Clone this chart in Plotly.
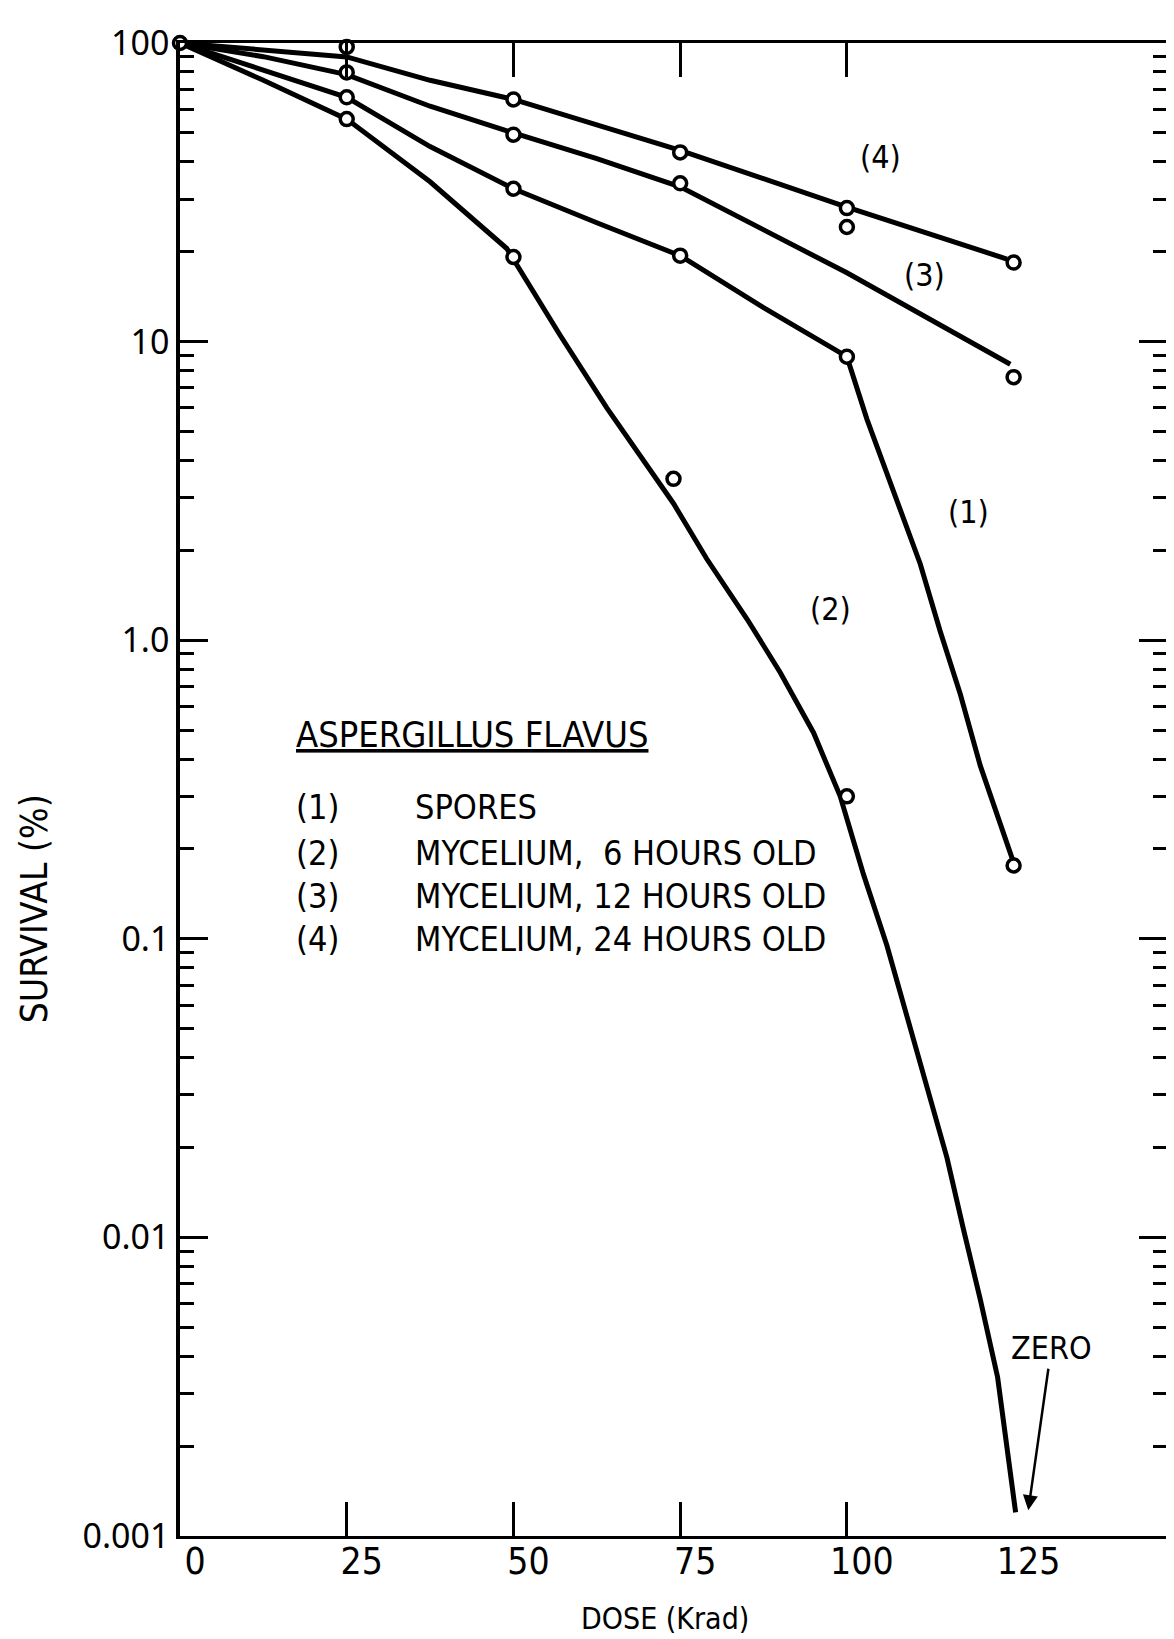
import math
import plotly.graph_objects as go

# ---------------- data ----------------
# measured points
dose_pts_1 = [0, 25, 50, 75, 100, 125]
surv_pts_1 = [100, 65.8, 32.5, 19.4, 8.9, 0.176]
dose_pts_2 = [25, 50, 74, 100]
surv_pts_2 = [55.6, 19.2, 3.47, 0.30]
dose_pts_3 = [25, 50, 75, 125]
surv_pts_3 = [79.7, 49.3, 33.9, 7.6]
dose_pts_4 = [25, 50, 75, 100, 100, 125]
surv_pts_4 = [97, 64.7, 43, 28, 24.2, 18.4]

# hand-drawn curves
dose_fit_1 = [0, 12.5, 25, 37.5, 50, 62.5, 75, 87.5, 100, 103, 107, 111, 114, 117, 120, 125]
surv_fit_1 = [100, 81, 65.8, 45, 32.5, 25, 19.4, 13, 8.9, 5.5, 3.15, 1.8, 1.07, 0.66, 0.38, 0.18]
dose_fit_2 = [0, 12.5, 25, 37.5, 49, 57, 64, 74, 79, 85, 90, 95, 99, 102.5, 106, 109, 112, 115, 117.5, 120, 122.6, 125.3]
surv_fit_2 = [100, 75, 55.6, 34.3, 20.5, 10.5, 6.0, 2.87, 1.87, 1.18, 0.78, 0.49, 0.30, 0.164, 0.095,
              0.055, 0.032, 0.0185, 0.0106, 0.0062, 0.0034, 0.0012]
dose_fit_3 = [0, 12.5, 25, 37.5, 50, 62.5, 75, 87.5, 100, 124.5]
surv_fit_3 = [100, 90, 78.4, 61.4, 50, 41, 33, 23.7, 17, 8.4]
dose_fit_4 = [0, 12.5, 25, 37.5, 50, 75, 100, 124]
surv_fit_4 = [100, 94.8, 89.8, 75, 64.7, 43.7, 28.2, 18.9]

curve_tags = ["(1)", "(2)", "(3)", "(4)"]
curve_tag_dose = [118.2, 97.6, 111.6, 105.1]
curve_tag_surv = [2.68, 1.27, 16.7, 41.5]

legend_title = "ASPERGILLUS FLAVUS"
legend_labels = ["SPORES", "MYCELIUM,  6 HOURS OLD", "MYCELIUM, 12 HOURS OLD", "MYCELIUM, 24 HOURS OLD"]
legend_surv = [0.277, 0.194, 0.139, 0.0995]
legend_title_surv = 0.485
legend_tag_dose = 17.1
legend_text_dose = 35.0

x_tick_major = [25, 50, 75, 100]
x_label_vals = [0, 25, 50, 75, 100, 125]
x_label_text = ["0", "25", "50", "75", "100", "125"]
y_tick_vals = [0.001, 0.01, 0.1, 1, 10, 100]
y_tick_text = ["0.001", "0.01", "0.1", "1.0", "10", "100"]
y_minor_vals = [m * 10 ** e for e in [-3, -2, -1, 0, 1] for m in range(2, 10)]

zero_dose, zero_surv = 127.2, 0.00122

# ---------------- figure ----------------
NARROW = "Liberation Sans Narrow, DejaVu Sans Condensed, DejaVu Sans, sans-serif"
fig = go.Figure()

for dx, sy in [(dose_fit_1, surv_fit_1), (dose_fit_2, surv_fit_2),
               (dose_fit_3, surv_fit_3), (dose_fit_4, surv_fit_4)]:
    fig.add_trace(go.Scatter(x=dx, y=sy, mode="lines",
                             line=dict(color="black", width=5), hoverinfo="skip"))

for dx, sy in [(dose_pts_1, surv_pts_1), (dose_pts_2, surv_pts_2),
               (dose_pts_3, surv_pts_3), (dose_pts_4, surv_pts_4)]:
    fig.add_trace(go.Scatter(x=dx, y=sy, mode="markers",
                             marker=dict(symbol="circle", size=13, color="white",
                                         line=dict(color="black", width=3.5)),
                             cliponaxis=False))

# invisible trace for the label axis
fig.add_trace(go.Scatter(x=[x_label_vals[0]], y=[y_tick_vals[-1]], xaxis="x2", mode="markers",
                         marker=dict(opacity=0), hoverinfo="skip"))

for tag, dx, sy in zip(curve_tags, curve_tag_dose, curve_tag_surv):
    fig.add_annotation(x=dx, y=math.log10(sy), text=tag, showarrow=False,
                       font=dict(family=NARROW, size=32, color="black"))

fig.add_annotation(x=legend_tag_dose, y=math.log10(legend_title_surv), text=legend_title,
                   showarrow=False, xanchor="left", yanchor="middle",
                   font=dict(family=NARROW, size=36, color="black", lineposition="under"))
for tag, lab, ly in zip(curve_tags, legend_labels, legend_surv):
    fig.add_annotation(x=legend_tag_dose, y=math.log10(ly), text=tag, showarrow=False,
                       xanchor="left", yanchor="middle",
                       font=dict(family=NARROW, size=34, color="black"))
    fig.add_annotation(x=legend_text_dose, y=math.log10(ly), text=lab, showarrow=False,
                       xanchor="left", yanchor="middle",
                       font=dict(family=NARROW, size=34, color="black"))

fig.add_annotation(x=zero_dose, y=math.log10(zero_surv), text="ZERO", showarrow=True,
                   ax=23, ay=-162, arrowhead=2, arrowsize=1.2, arrowwidth=2.5, arrowcolor="black",
                   font=dict(family=NARROW, size=32, color="black"))

fig.add_annotation(xref="paper", yref="paper", x=0.491, y=-0.0555, text="DOSE (Krad)",
                   showarrow=False, xanchor="center", yanchor="middle",
                   font=dict(family=NARROW, size=30, color="black"))
fig.add_annotation(xref="paper", yref="paper", x=-0.1465, y=0.42, text="SURVIVAL (%)",
                   showarrow=False, textangle=-90, xanchor="center", yanchor="middle",
                   font=dict(family=NARROW, size=37, color="black"))

fig.update_layout(
    width=1174, height=1639,
    margin=dict(l=172, r=11, t=22, b=111),
    paper_bgcolor="white", plot_bgcolor="white",
    showlegend=False,
    xaxis=dict(range=[0, 148], tickvals=x_tick_major, showticklabels=False,
               ticks="inside", ticklen=34, tickwidth=2.5, tickcolor="black",
               showline=True, linewidth=3, linecolor="black", mirror="ticks",
               showgrid=False, zeroline=False),
    xaxis2=dict(range=[0, 148], overlaying="x", side="bottom", anchor="y",
                tickvals=x_label_vals, ticktext=x_label_text, ticks="",
                ticklabelshift=15,
                showline=False, showgrid=False, zeroline=False,
                tickfont=dict(family=NARROW, size=37, color="black")),
    yaxis=dict(type="log", range=[-3, 2], tickvals=y_tick_vals, ticktext=y_tick_text,
               ticks="inside", ticklen=28, tickwidth=2.5, tickcolor="black",
               showline=True, linewidth=3.5, linecolor="black", mirror="ticks",
               showgrid=False, zeroline=False, ticklabeloverflow="allow",
               tickfont=dict(family="Noto Sans", size=34, color="black"),
               minor=dict(tickvals=y_minor_vals, ticks="inside", ticklen=14,
                          tickwidth=2.5, tickcolor="black", showgrid=False)),
)

fig.write_html("out.html")
